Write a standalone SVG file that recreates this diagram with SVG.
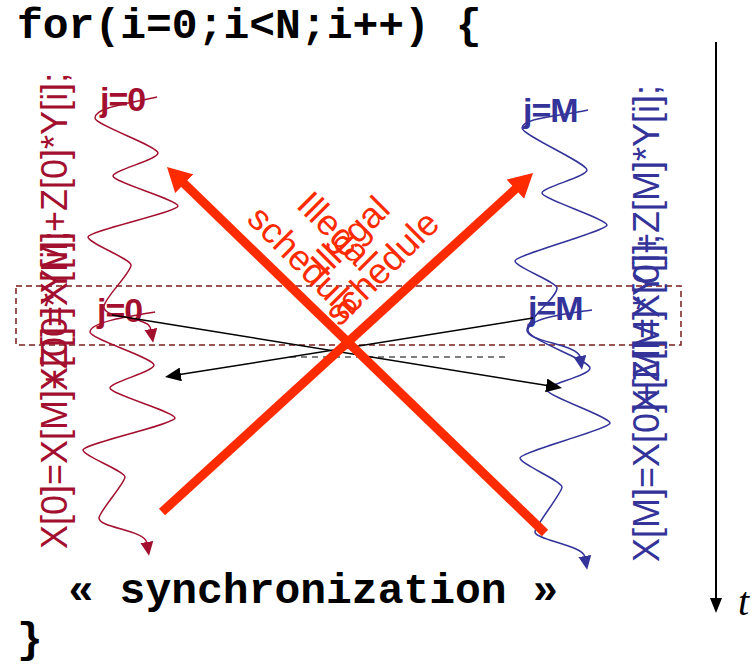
<svg xmlns="http://www.w3.org/2000/svg" width="753" height="664" viewBox="0 0 753 664">
<defs>
<style>
.code{font-family:"Liberation Mono","Courier New",monospace;font-weight:bold;font-size:43px;fill:#000}
.eqr{font-family:"Liberation Sans",Arial,sans-serif;font-size:36px;fill:#a3102f}
.eqb{font-family:"Liberation Sans",Arial,sans-serif;font-size:36px;fill:#333399}
.jr{font-family:"Liberation Sans",Arial,sans-serif;font-weight:bold;font-size:34px;fill:#a3102f;letter-spacing:-1px}
.jb{font-family:"Liberation Sans",Arial,sans-serif;font-weight:bold;font-size:34px;fill:#333399;letter-spacing:-1px}
.ill{font-family:"Liberation Sans",Arial,sans-serif;font-size:36px;fill:#ff2b00}
.sqr{fill:none;stroke:#a3102f;stroke-width:1.5}
.sqb{fill:none;stroke:#333399;stroke-width:1.5}
.blk{fill:none;stroke:#000;stroke-width:1.5}
.big{fill:none;stroke:#ff2b00;stroke-width:9}
</style>
<marker id="hr" viewBox="0 0 14 13" refX="1" refY="6.5" markerWidth="14" markerHeight="13" markerUnits="userSpaceOnUse" orient="auto"><path d="M0,0 L14,6.5 L0,13 z" fill="#a3102f"/></marker>
<marker id="hb" viewBox="0 0 14 13" refX="1" refY="6.5" markerWidth="14" markerHeight="13" markerUnits="userSpaceOnUse" orient="auto"><path d="M0,0 L14,6.5 L0,13 z" fill="#333399"/></marker>
<marker id="hk" viewBox="0 0 16 14" refX="1" refY="7" markerWidth="16" markerHeight="14" markerUnits="userSpaceOnUse" orient="auto"><path d="M0,0 L16,7 L0,14 z" fill="#000"/></marker>
<marker id="hx" viewBox="0 0 24 26" refX="2" refY="13" markerWidth="24" markerHeight="26" markerUnits="userSpaceOnUse" orient="auto"><path d="M0,0 L24,13 L0,26 z" fill="#ff2b00"/></marker>
</defs>
<rect width="753" height="664" fill="#fff"/>

<g id="code">
<text class="code" x="17" y="38">for(i=0;i&lt;N;i++) {</text>
<text class="code" x="68" y="603">« synchronization »</text>
<text class="code" x="17" y="652">}</text>
</g>

<g id="frame">
<rect x="16" y="286" width="665" height="59" fill="none" stroke="#7b1d1d" stroke-width="1.5" stroke-dasharray="6,4"/>
</g>

<g id="eq-left">
<text class="eqr" transform="translate(67,391) rotate(-90)">X[0]=X[M]+Z[0]*Y[i];</text>
<text class="eqr" transform="translate(67,549) rotate(-90)">X[0]=X[M]+Z[0]*Y[i];</text>
</g>
<g id="eq-right">
<text class="eqb" transform="translate(659,413) rotate(-90)">X[M]=X[0]+Z[M]*Y[i];</text>
<text class="eqb" transform="translate(659,562) rotate(-90)">X[M]=X[0]+Z[M]*Y[i];</text>
</g>

<g id="j0-top"><text class="jr" x="100" y="111">j=0</text></g>
<g id="jM-top"><text class="jb" x="523" y="122">j=M</text></g>
<g id="j0-low"><text class="jr" x="97" y="322">j=0</text></g>
<g id="jM-low"><text class="jb" x="528" y="320">j=M</text></g>

<g id="connectors">
<path class="sqr" marker-end="url(#hr)" d="M157,97 C125,104 95,108 95,118 C95,125 158,146 158,153 C158,160 113,170 113,176 C113,182 178,200 178,206 C178,212 88,231 88,237 C88,243 131,259 131,265 C131,273 106,296 104,306 C102,316 128,316 138,320 C146,323 150,324 151,330"/>
<path class="sqr" marker-end="url(#hr)" d="M155,312 C130,316 90,322 90,332 C90,339 154,358 154,365 C154,372 110,382 110,388 C110,394 175,412 175,418 C175,424 83,444 83,450 C83,456 125,471 125,477 C125,483 99,512 99,518 C99,528 145,530 147,543"/>
<path class="sqb" marker-end="url(#hb)" d="M588,110 C560,116 522,118 522,128 C522,135 587,163 587,170 C587,177 542,187 542,193 C542,199 607,219 607,225 C607,231 515,255 515,261 C515,267 557,282 557,288 C557,298 528,318 527,330 C526,342 578,344 580,357"/>
<path class="sqb" marker-end="url(#hb)" d="M592,310 C565,314 529,318 528,330 C527,340 590,360 590,368 C590,376 547,384 547,390 C547,396 610,417 610,423 C610,429 520,452 520,458 C520,464 562,481 562,487 C562,493 535,526 535,532 C535,540 583,545 585,557"/>
<line class="blk" x1="112" y1="315" x2="547.2" y2="385.6" marker-end="url(#hk)"/>
<line class="blk" x1="533" y1="318" x2="179.8" y2="374.6" marker-end="url(#hk)"/>
<line x1="290" y1="357" x2="508" y2="357" stroke="#000" stroke-width="1.2" stroke-dasharray="6,5"/>
<line class="big" x1="162" y1="512" x2="516.8" y2="187.8" marker-end="url(#hx)"/>
<line class="big" x1="545" y1="533" x2="182.8" y2="182.3" marker-end="url(#hx)"/>
<line x1="716" y1="42" x2="716" y2="600" stroke="#000" stroke-width="2"/>
<polygon points="710,598 722,598 716,613" fill="#000"/>
</g>

<g id="illegal-1" transform="translate(322,246) rotate(45)">
<text class="ill" text-anchor="middle"><tspan x="0" y="-9">Illegal</tspan><tspan x="0" y="36">schedule</tspan></text>
</g>
<g id="illegal-2" transform="translate(365,251) rotate(-45)">
<text class="ill" text-anchor="middle"><tspan x="0" y="-9">Illegal</tspan><tspan x="0" y="36">schedule</tspan></text>
</g>

<g id="time-label"><text x="738" y="615" font-family="'Liberation Serif','Times New Roman',serif" font-style="italic" font-size="40" fill="#000">t</text></g>
</svg>
